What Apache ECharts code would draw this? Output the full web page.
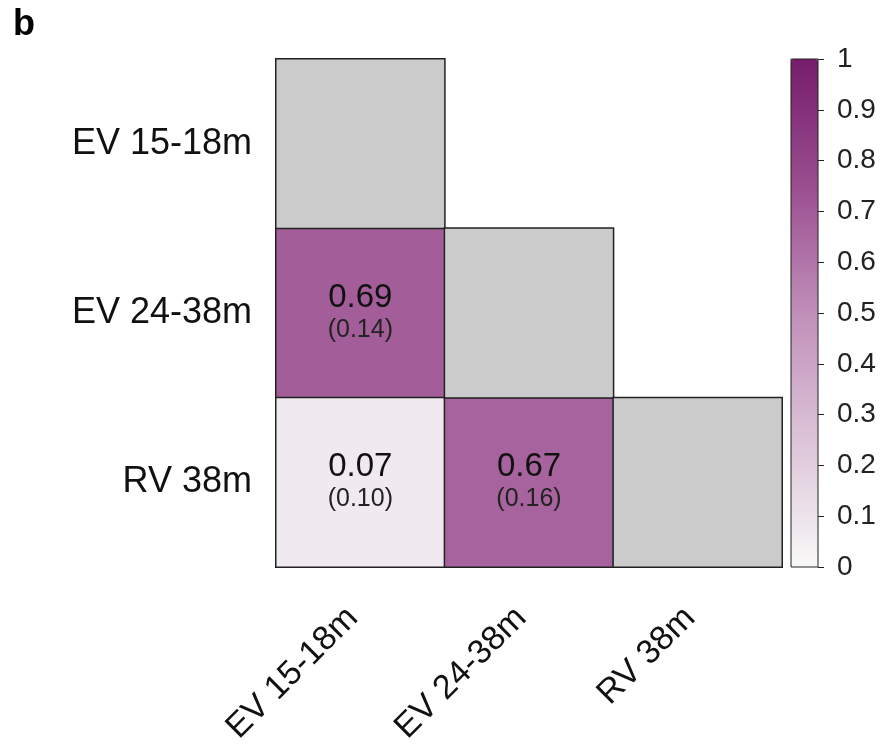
<!DOCTYPE html>
<html><head><meta charset="utf-8">
<script src="https://cdn.jsdelivr.net/npm/echarts@6/dist/echarts.min.js"></script>
<style>html,body{margin:0;padding:0;background:#fff}#c{width:888px;height:752px}</style>
</head><body><div id="c"></div>
<script>
const categories = ['EV 15-18m', 'EV 24-38m', 'RV 38m'];
// correlation cells: [xIndex, yIndex]
const cellX = [0, 0, 1];
const cellY = [1, 2, 2];
const corrValues = [0.69, 0.07, 0.67];
const seValues = [0.14, 0.10, 0.16];
const diagIdx = [0, 1, 2];
const colorbarTicks = [0, 0.1, 0.2, 0.3, 0.4, 0.5, 0.6, 0.7, 0.8, 0.9, 1];

const FONT = '"Liberation Sans", Arial, sans-serif';
const corrData = corrValues.map((v, i) => ({
  value: [cellX[i], cellY[i], v],
  se: seValues[i]
}));
const diagData = diagIdx.map(i => [i, i, 1]);

const chart = echarts.init(document.getElementById('c'));
chart.setOption({
  animation: false,
  backgroundColor: '#fff',
  textStyle: { fontFamily: FONT },
  title: { text: 'b', left: 8, top: 2, textStyle: { fontSize: 36, fontWeight: 'bold', color: '#000', fontFamily: FONT } },
  grid: [
    { left: 276, top: 59, width: 506, height: 508 },
    { left: 791, top: 59, width: 27, height: 508, show: true, borderColor: '#222', borderWidth: 1, backgroundColor: 'transparent', z: 10 }
  ],
  xAxis: [
    {
      type: 'category', gridIndex: 0, data: categories,
      axisLine: { show: false }, axisTick: { show: false }, splitLine: { show: false },
      axisLabel: { rotate: 45, margin: 38, padding: [0, 11, 0, 0], fontSize: 34, color: '#111', fontFamily: FONT, interval: 0 }
    },
    { type: 'category', gridIndex: 1, data: ['a'], show: false }
  ],
  yAxis: [
    {
      type: 'category', gridIndex: 0, inverse: true, data: categories,
      axisLine: { show: false }, axisTick: { show: false }, splitLine: { show: false },
      axisLabel: { margin: 24, fontSize: 36, color: '#111', fontFamily: FONT, interval: 0 }
    },
    {
      type: 'value', gridIndex: 1, position: 'right', min: colorbarTicks[0], max: colorbarTicks[colorbarTicks.length - 1], interval: 0.1,
      axisLine: { show: false }, splitLine: { show: false },
      axisTick: { show: true, length: 6, lineStyle: { color: '#222', width: 1 } },
      axisLabel: { margin: 19, fontSize: 28, color: '#222', fontFamily: FONT,
        formatter: v => String(Math.round(v * 10) / 10) }
    }
  ],
  visualMap: {
    type: 'continuous', seriesIndex: 0, min: 0, max: 1, calculable: false,
    left: 791, top: 59, itemWidth: 27, itemHeight: 508, padding: 0,
    text: null, showLabel: false,
    inRange: { color: ['#f8f8f8', '#dcc4d8', '#c08fb9', '#9a4e90', '#761c6a'] }
  },
  series: [
    {
      type: 'heatmap', xAxisIndex: 0, yAxisIndex: 0, data: corrData,
      itemStyle: { borderColor: '#222', borderWidth: 1.5 },
      label: {
        show: true,
        formatter: p => '{a|' + p.value[2].toFixed(2) + '}\n{b|(' + p.data.se.toFixed(2) + ')}',
        rich: {
          a: { fontSize: 33, color: '#111', fontFamily: FONT, lineHeight: 34 },
          b: { fontSize: 25, color: '#222', fontFamily: FONT, lineHeight: 30 }
        }
      },
      emphasis: { disabled: true }
    },
    {
      type: 'heatmap', xAxisIndex: 0, yAxisIndex: 0, data: diagData,
      itemStyle: { color: '#cbcbcb', borderColor: '#222', borderWidth: 1.5 },
      label: { show: false },
      emphasis: { disabled: true }
    }
  ]
});
</script></body></html>
